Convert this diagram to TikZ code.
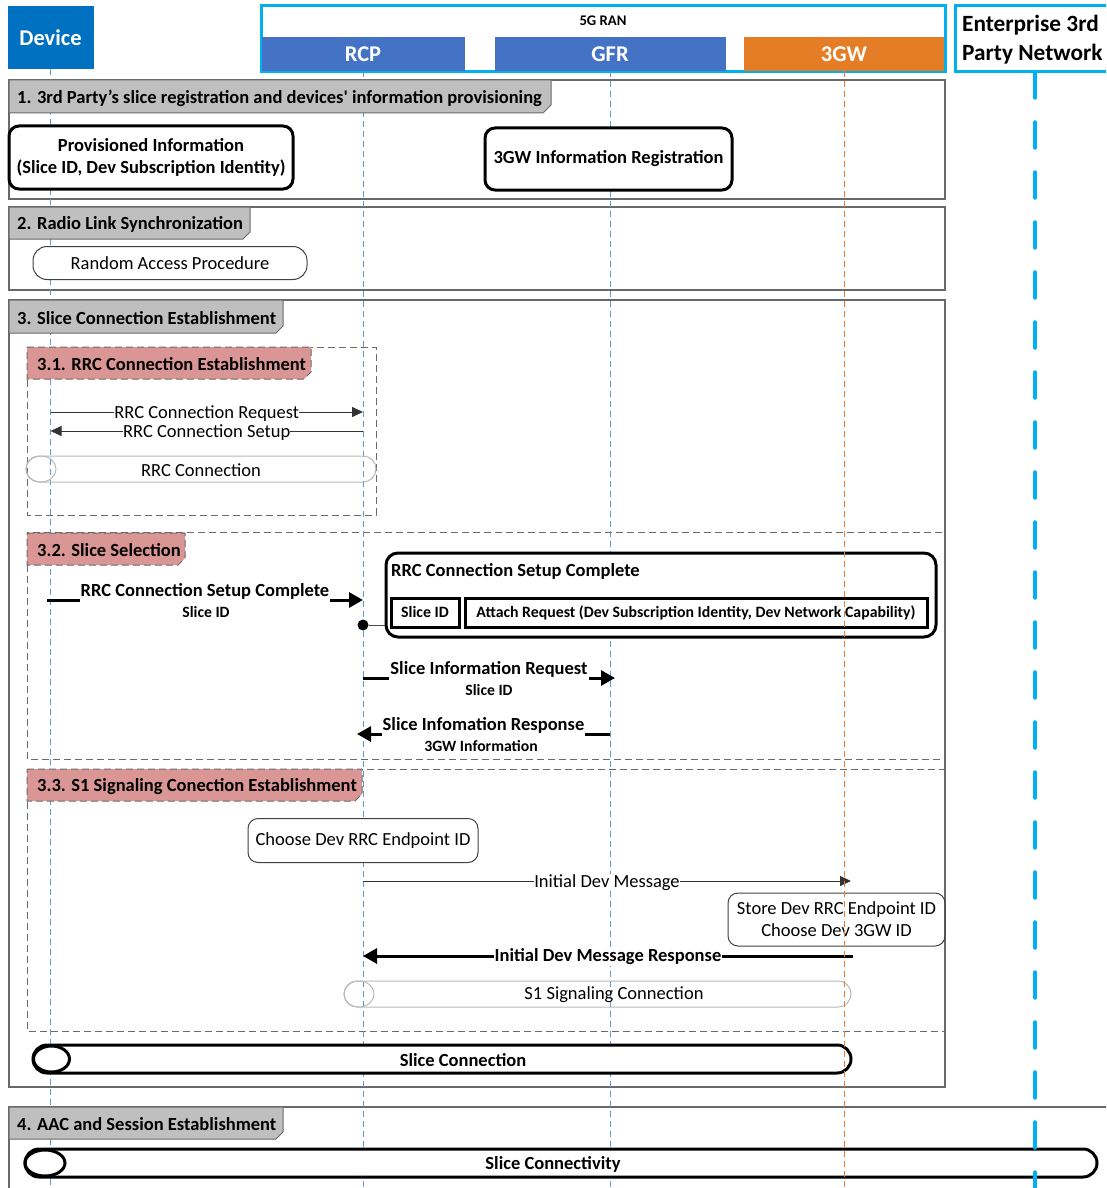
\documentclass[tikz,border=0pt]{standalone}
\usepackage{fontspec}
\setmainfont{Carlito}
\usetikzlibrary{arrows.meta}
\definecolor{devblue}{RGB}{0,112,192}
\definecolor{ranblue}{RGB}{68,114,196}
\definecolor{gworange}{RGB}{228,125,38}
\definecolor{ranline}{RGB}{0,176,240}
\definecolor{lifeblue}{RGB}{91,155,213}
\definecolor{lifeorange}{RGB}{237,125,49}
\definecolor{tabgray}{RGB}{191,191,191}
\definecolor{tabpink}{RGB}{218,150,148}
\definecolor{framegray}{RGB}{105,105,105}
\definecolor{pillgray}{RGB}{185,185,185}

\begin{document}
\begin{tikzpicture}[x=1pt, y=-1pt,
    every node/.style={font=\fontsize{18.5}{22}\selectfont, inner sep=1pt},
    hdrbox/.style={minimum height=34pt, text=white, font=\fontsize{22.5}{26}\selectfont\bfseries},
    lifeline/.style={lifeblue, line width=1pt, dash pattern=on 6pt off 4pt},
    frame/.style={framegray, line width=1.3pt},
    subframe/.style={framegray, line width=1pt, dash pattern=on 7pt off 4pt},
    tab/.style={draw=framegray, fill=tabgray, line width=1pt},
    subtab/.style={draw=framegray, fill=tabpink, line width=1pt, dash pattern=on 7pt off 4pt},
    tabtext/.style={anchor=west, font=\fontsize{18.5}{22}\selectfont\bfseries},
    infobox/.style={draw, line width=3pt, rounded corners=10pt, fill=white, align=center, font=\fontsize{18.5}{22}\selectfont\bfseries},
    notebox/.style={draw=black!75, line width=1pt, rounded corners=10pt, fill=white, align=center},
    fieldbox/.style={draw, line width=3pt, minimum height=29pt, font=\fontsize{15.8}{18}\selectfont\bfseries},
    thinmsg/.style={draw=black!80, line width=1pt, -{Triangle[length=11pt,width=10pt]}},
    thickmsg/.style={line width=3pt, -{Triangle[length=14pt,width=15pt]}},
    msglabel/.style={fill=white, inner sep=0pt},
    boldlabel/.style={fill=white, inner xsep=1pt, inner ysep=3pt, font=\fontsize{18.5}{22}\selectfont\bfseries},
    sublabel/.style={font=\fontsize{15.7}{18}\selectfont\bfseries},
    thinpill/.style={draw=pillgray, line width=1pt, rounded corners=13pt},
    thickpill/.style={draw, line width=3pt, rounded corners=14pt, fill=white}]

    \useasboundingbox (0,0) rectangle (1106,1188);
    \clip (0,0) rectangle (1106,1188);

    % === Header – device, 5G RAN, 3rd party ===
    \node[hdrbox, fill=devblue, minimum width=86pt, minimum height=63pt] (dev) at (50.5,37.5) {Device};
    \node[draw=ranline, line width=3pt, minimum width=684pt, minimum height=66pt, inner sep=0pt] (ran) at (603,39) {};
    \node[font=\fontsize{14.7}{17}\selectfont\bfseries] (ranlbl) at (603,21) {5G RAN};
    \node[hdrbox, fill=ranblue, minimum width=203pt] (rcp) at (363,54) {RCP};
    \node[hdrbox, fill=ranblue, minimum width=231pt] (gfr) at (610,54) {GFR};
    \node[hdrbox, fill=gworange, minimum width=200pt] (tgw) at (844,54) {3GW};
    \draw[ranline, line width=3pt] (955,6) rectangle (1140,72);
    \node[anchor=west, align=left, font=\fontsize{23.3}{29}\selectfont\bfseries] (ent) at (961,39.5) {Enterprise 3rd\\Party Network};
    \coordinate (enttop) at (1035,72);
    \coordinate (entend) at (1035,1200);

    % === Section frames ===
    \draw[frame] (9,80) rectangle (945,199);
    \draw[frame] (9,207) rectangle (945,290);
    \draw[frame] (9,300) rectangle (945,1087);
    \draw[frame] (9,1200) -- (9,1107) -- (1120,1107);
    \draw[subframe] (27,347) rectangle (376,515);
    \draw[subframe] (27,532) rectangle (945,759);
    \draw[subframe] (27,769) rectangle (945,1031);

    % lifelines (blue ones sit under the boxes)
    \draw[lifeline] (dev.south) -- (dev.south |- 0,1200);
    \draw[lifeline] (rcp.south) -- (rcp.south |- 0,1200);
    \draw[lifeline] (gfr.south) -- (gfr.south |- 0,1200);

    % === 1. registration and provisioning ===
    \draw[tab] (9,80) -- (551,80) -- (551,105) -- (543,113) -- (9,113) -- cycle;
    \node[tabtext] (sec1) at (16,98) {1. 3rd Party’s slice registration and devices\textquotesingle{} information provisioning};
    \node[infobox, minimum width=284pt, minimum height=63pt] (prov) at (151,157.5) {Provisioned Information\\(Slice ID, Dev Subscription Identity)};
    \node[infobox, minimum width=247pt, minimum height=62pt] (reg) at (608.5,159) {3GW Information Registration};

    % === 2. radio link ===
    \draw[tab] (9,207) -- (250,207) -- (250,232) -- (243,239) -- (9,239) -- cycle;
    \node[tabtext] (sec2) at (16,224.5) {2. Radio Link Synchronization};
    \node[notebox, rounded corners=14pt, minimum width=274pt, minimum height=33pt] (rap) at (170,263) {Random Access Procedure};

    % === 3. slice connection ===
    \draw[tab] (9,300) -- (283,300) -- (283,326) -- (276,333) -- (9,333) -- cycle;
    \node[tabtext] (sec3) at (16,318) {3. Slice Connection Establishment};

    % 3.1 RRC connection
    \draw[subtab] (27,347) -- (311,347) -- (311,372) -- (304,379) -- (27,379) -- cycle;
    \node[tabtext] (sec31) at (36,364.5) {3.1. RRC Connection Establishment};
    \coordinate (reqa) at (dev.south |- 0,412);
    \coordinate (reqb) at (rcp.south |- 0,412);
    \coordinate (seta) at (rcp.south |- 0,431);
    \coordinate (setb) at (dev.south |- 0,431);
    \draw[thinmsg] (reqa) -- node[msglabel, yshift=-1.5pt] (reqlbl) {RRC Connection Request} (reqb);
    \draw[thinmsg] (seta) -- node[msglabel, yshift=-1.5pt] (setlbl) {RRC Connection Setup} (setb);
    \draw[thinpill] (26,456) rectangle (376,482);
    \draw[pillgray, line width=1pt] (41,469) ellipse [x radius=15, y radius=13];
    \node (rrcconn) at (201,470) {RRC Connection};

    % 3.2 slice selection
    \draw[subtab] (27,533) -- (185,533) -- (185,558) -- (178,565) -- (27,565) -- cycle;
    \node[tabtext] (sec32) at (36,550.5) {3.2. Slice Selection};
    \coordinate (scca) at (47,600);
    \coordinate (sccb) at (rcp.south |- 0,600);
    \draw[thickmsg] (scca) -- node[boldlabel, anchor=base, yshift=3.5pt] (scclbl) {RRC Connection Setup Complete} (sccb);
    \node[sublabel] (sccsub) at (206,612) {Slice ID};
    \node[draw, line width=3pt, rounded corners=12pt, fill=white, minimum width=550pt, minimum height=84pt] (cmp) at (661,595) {};
    \node[anchor=west, font=\fontsize{18.5}{22}\selectfont\bfseries] (cmptitle) at (390,571) {RRC Connection Setup Complete};
    \node[fieldbox, minimum width=68pt] (sid) at (425,612.5) {Slice ID};
    \node[fieldbox, minimum width=462pt] (att) at (696,612.5) {Attach Request (Dev Subscription Identity, Dev Network Capability)};
    \node[circle, fill, inner sep=0pt, minimum size=11pt] (dot) at (rcp.south |- 0,625) {};
    \draw[black!70, line width=1pt] (dot) -- (dot -| cmp.west);

    \coordinate (sira) at (rcp.south |- 0,678);
    \coordinate (sirb) at (615,678);
    \draw[thickmsg] (sira) -- node[boldlabel, anchor=base, yshift=4pt] (sirlbl) {Slice Information Request} (sirb);
    \node[sublabel] (sirsub) at (489,690) {Slice ID};
    \coordinate (sisa) at (gfr.south |- 0,734);
    \coordinate (sisb) at (357,734);
    \draw[thickmsg] (sisa) -- node[boldlabel, anchor=base, yshift=4pt] (sislbl) {Slice Infomation Response} (sisb);
    \node[sublabel] (sissub) at (481,746) {3GW Information};

    % 3.3 S1 signaling
    \draw[subtab] (27,769) -- (362,769) -- (362,794) -- (355,801) -- (27,801) -- cycle;
    \node[tabtext] (sec33) at (36,786.5) {3.3. S1 Signaling Conection Establishment};
    \node[notebox, minimum width=230pt, minimum height=44pt] (choose) at (rcp.south |- 0,840.5) {Choose Dev RRC Endpoint ID};
    \coordinate (idma) at (rcp.south |- 0,881);
    \coordinate (idmb) at (851,881);
    \draw[thinmsg] (idma) -- node[msglabel, yshift=-1.5pt] (idmlbl) {Initial Dev Message} (idmb);
    \node[draw=black!75, line width=1pt, rounded corners=10pt, align=center, minimum width=217pt, minimum height=53pt] (store) at (836.5,919.5) {Store Dev RRC Endpoint ID\\Choose Dev 3GW ID};
    \coordinate (idra) at (853,956);
    \coordinate (idrb) at (rcp.south |- 0,956);
    \draw[thickmsg] (idra) -- node[boldlabel, inner ysep=1pt, yshift=-1pt] (idrlbl) {Initial Dev Message Response} (idrb);
    \draw[thinpill] (344,981) rectangle (851,1007);
    \draw[pillgray, line width=1pt] (359,994) ellipse [x radius=15, y radius=13];
    \node (s1conn) at (614,995) {S1 Signaling Connection};

    \draw[thickpill] (33,1045) rectangle (851,1073);
    \draw[line width=3pt] (51.5,1059) ellipse [x radius=18, y radius=13];
    \node[font=\fontsize{18.5}{22}\selectfont\bfseries] (sliceconn) at (463,1060) {Slice Connection};

    % === 4. AAC and session ===
    \draw[tab] (9,1107) -- (283,1107) -- (283,1132) -- (276,1139) -- (9,1139) -- cycle;
    \node[tabtext] (sec4) at (16,1124.5) {4. AAC and Session Establishment};
    \draw[thickpill] (25,1149) rectangle (1097,1177);
    \draw[line width=3pt] (45,1163) ellipse [x radius=20, y radius=13];
    \node[font=\fontsize{18.5}{22}\selectfont\bfseries] (slicecty) at (553,1164) {Slice Connectivity};

    % lifelines on top
    \draw[lifeline, lifeorange] (tgw.south) -- (tgw.south |- 0,1200);
    \draw[ranline, line width=3.5pt, line cap=round, dash pattern=on 26pt off 24pt] (enttop) -- (entend);
\end{tikzpicture}
\end{document}
